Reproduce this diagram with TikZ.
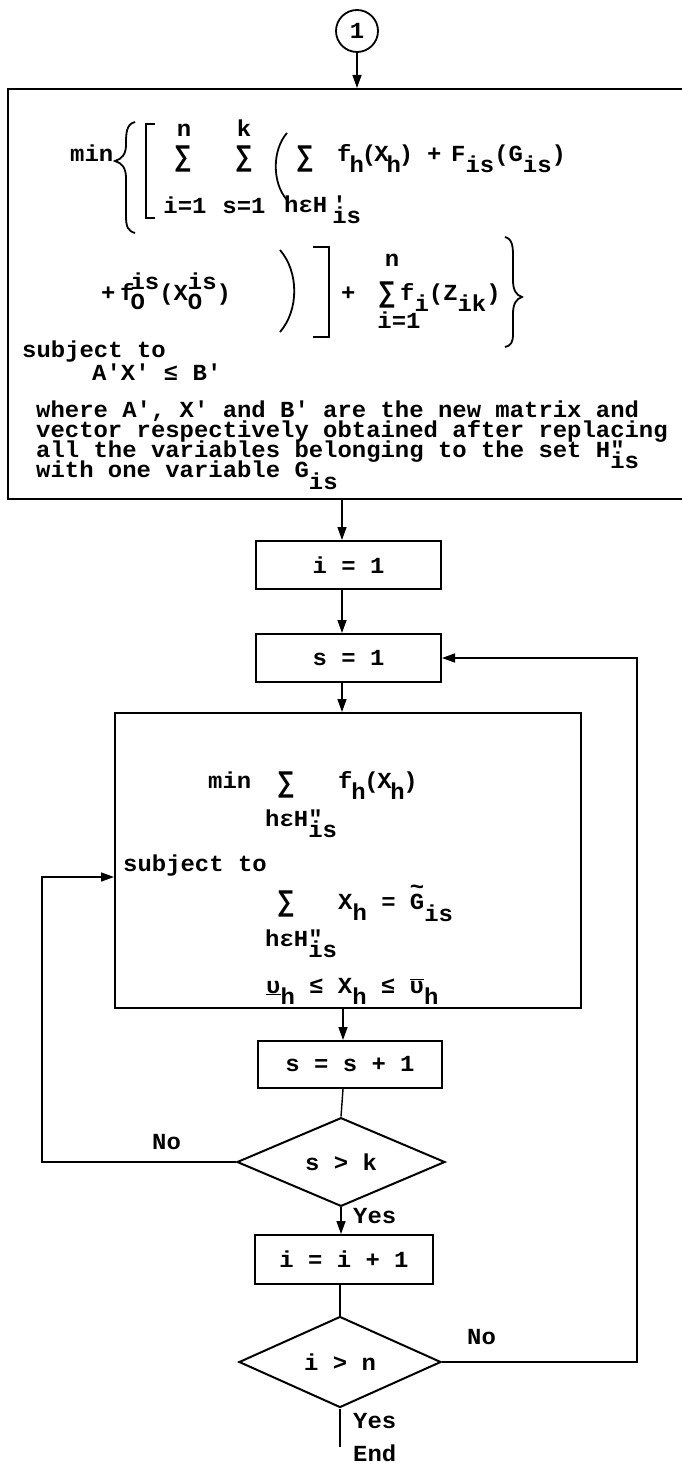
\documentclass[tikz,border=0pt]{standalone}
\usepackage{graphicx}
\usepackage{fontspec}
\setmonofont{Liberation Mono}[FakeStretch=1.04]
\usetikzlibrary{arrows.meta,shapes.geometric}
\newcommand\dn[1]{\raisebox{-11pt}{#1}}
\newcommand\bsum{\scalebox{1.05}[1.3]{∑}}
\newcommand\supsub[2]{\rlap{\raisebox{-9pt}{#2}}\raisebox{11pt}{#1}}
\newcommand\tld{\rlap{\raisebox{15pt}{\textasciitilde}}}
\begin{document}
\begin{tikzpicture}[x=1pt,y=-1pt,
  every node/.style={font=\ttfamily\bfseries\fontsize{23}{24}\selectfont, inner sep=0pt},
  box/.style={draw, line width=2pt, rectangle},
  dia/.style={draw, line width=2pt, diamond},
  con/.style={line width=1.4pt},
  arr/.style={con, -{Triangle[length=13pt,width=9pt]}},
  tl/.style={anchor=base west},
  tc/.style={anchor=base},
  delim/.style={line width=1.8pt}]
\useasboundingbox (0,0) rectangle (682,1463);

% ---------- start circle and first box
\node[draw, circle, line width=1.8pt, minimum size=42pt] (c1) at (357,31) {1};
\node[box, minimum width=682pt, minimum height=410pt] (b1) at (349,294) {};

% row 1
\node[tc] (n1) at (184,137) {n};
\node[tc] (k1) at (244,137) {k};
\node[tl] (min1) at (70,162) {min};
\node (S1) at (183,159) {\bsum};
\node (S2) at (244,159) {\bsum};
\node (S3) at (305,159) {\bsum};
\node[tl] (fh1) at (337,162) {f\kern-2pt\dn{h}\kern-2pt(\kern-2pt X\kern-2pt\dn{h}\kern-2pt)};
\node[tl] (p1) at (427,162) {+};
\node[tl] (F1) at (451,162) {F\dn{is}(G\dn{is})};
\node[tc] (i1l) at (185,214) {i=1};
\node[tc] (s1l) at (244,214) {s=1};
\node[tl] (h1l) at (284,213) {hεH\kern5pt\rlap{'}\dn{is}};
% delimiters
\draw[delim] (135,122) .. controls (126,124) and (126,134) .. (126,145)
  .. controls (126,154) and (122,159) .. (115,161)
  .. controls (122,163) and (126,168) .. (126,178) -- (126,216)
  .. controls (126,227) and (128,231) .. (135,233);
\draw[delim] (155,124) -- (146,124) -- (146,218) -- (155,218);
\draw[delim] (287,133) .. controls (272,150) and (272,183) .. (287,200);

% row 2
\node[tc] (n2) at (392,266) {n};
\node[tl] (p2) at (101,300) {+};
\node[tl] (f2) at (120,300) {f\kern-4pt\supsub{is}{O}(X\supsub{is}{O})};
\draw[delim] (280,250) .. controls (299,272) and (299,310) .. (280,332);
\draw[delim] (313,247) -- (329,247) -- (329,337) -- (313,337);
\node[tl] (p3) at (341,300) {+};
\node (S4) at (387,295) {\bsum};
\node[tl] (fi) at (400,300) {f\dn{i}(Z\dn{ik})};
\node[tc] (i2l) at (399,328) {i=1};
\draw[delim] (505,237) .. controls (513,239) and (513,248) .. (513,258) -- (513,280)
  .. controls (513,290) and (516,295) .. (522,297)
  .. controls (516,299) and (513,304) .. (513,314) -- (513,334)
  .. controls (513,342) and (511,346) .. (505,347);

\node[tl] (sub1) at (22,357) {subject to};
\node[tl] (axb) at (92,380) {A'X' ≤ B'};
\node[tl] (w1) at (36,417) {where A', X' and B' are the new matrix and};
\node[tl] (w2) at (36,437) {vector respectively obtained after replacing};
\node[tl] (w3) at (36,457) {all the variables belonging to the set H\rlap{"}\dn{is}};
\node[tl] (w4) at (36,477) {with one variable G\raisebox{-12pt}{is}};

% ---------- i = 1, s = 1
\node[box, minimum width=185pt, minimum height=48pt] (i1) at (348.5,565) {i = 1};
\node[box, minimum width=185pt, minimum height=48pt] (s1) at (348.5,658) {s = 1};

% ---------- second box
\node[box, minimum width=466pt, minimum height=295pt] (b2) at (348,860.5) {};
\node[tl] (min2) at (208,788) {min};
\node (S5) at (286,785) {\bsum};
\node[tl] (fh2) at (338,788) {f\kern-1.3pt\dn{h}\kern-1.3pt(\kern-1.3pt X\kern-1.3pt\dn{h}\kern-1.3pt)};
\node[tl] (h2) at (265,826) {hεH\rlap{"}\dn{is}};
\node[tl] (sub2) at (123,871) {subject to};
\node (S6) at (286,904) {\bsum};
\node[tl] (xh) at (338,909) {X\dn{h} = \tld G\raisebox{-12pt}{is}};
\node[tl] (h3) at (265,946) {hεH\rlap{"}\dn{is}};
\node[tl] (bd) at (266,993) {\underline{υ}\dn{h} ≤ X\dn{h} ≤ $\overline{\hbox{υ}}$\dn{h}};

% ---------- lower part
\node[box, minimum width=184pt, minimum height=47pt] (ss) at (350,1064.5) {s = s + 1};
\node[dia, minimum width=208pt, minimum height=86pt] (sk) at (341,1162) {s > k};
\node[box, minimum width=178pt, minimum height=49pt] (ii) at (344,1259.5) {i = i + 1};
\node[dia, minimum width=202pt, minimum height=91pt] (in) at (340,1362) {i > n};

\node[tl] (no1) at (152,1149) {No};
\node[tl] (yes1) at (353,1223) {Yes};
\node[tl] (no2) at (467,1344) {No};
\node[tl] (yes2) at (353,1428) {Yes};
\node[tl] (endt) at (353,1461) {End};

% ---------- connectors
\coordinate (ax) at (342,0);
\coordinate (bx) at (343,0);
\coordinate (L) at (42,877);
\coordinate (R) at (637,0);
\coordinate (endc) at (340,1447);
\draw[arr] (c1.south) -- (c1.south |- b1.north);
\draw[arr] (b1.south -| ax) -- (i1.north -| ax);
\draw[arr] (i1.south -| ax) -- (s1.north -| ax);
\draw[arr] (s1.south -| ax) -- (b2.north -| ax);
\draw[arr] (b2.south -| bx) -- (ss.north -| bx);
\draw[con] (ss.south -| bx) -- (sk.north);
\draw[arr] (sk.south) -- (sk.south |- ii.north);
\draw[con] (ii.south -| in.north) -- (in.north);
\draw[con] (in.south) -- (endc);
\draw[arr] (sk.west) -| (L) -- (L -| b2.west);
\draw[arr] (in.east) -| (R |- s1.east) -- (s1.east);
\end{tikzpicture}
\end{document}
